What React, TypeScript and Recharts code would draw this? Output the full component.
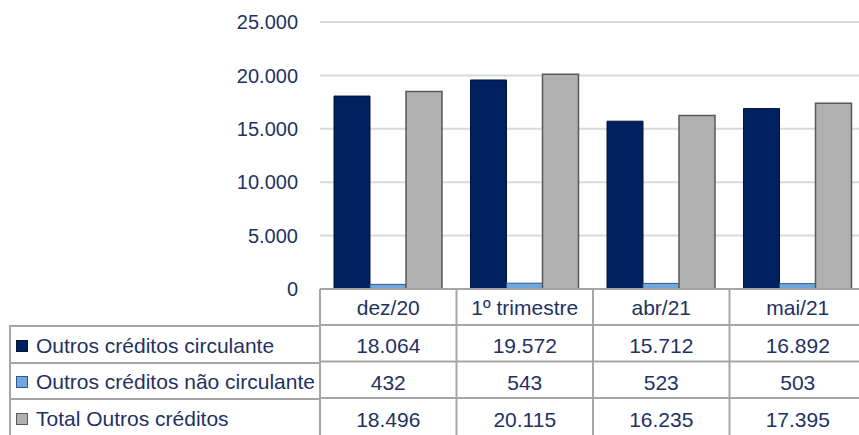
import React from "react";
import { BarChart, Bar, XAxis, YAxis, CartesianGrid, Legend } from "recharts";

const categories = ["dez/20", "1º trimestre", "abr/21", "mai/21"];
const circulante = [18064, 19572, 15712, 16892];
const naoCirculante = [432, 543, 523, 503];
const total = [18496, 20115, 16235, 17395];
const yTicks = [0, 5000, 10000, 15000, 20000, 25000];

const seriesNames = ["Outros créditos circulante", "Outros créditos não circulante", "Total Outros créditos"];

const FONT = "'Liberation Sans', Arial, sans-serif";
const TEXT = "#1f3262";
const LINE = "#a6a6a6";
const ROW = 36;

const fmt = (v: number) => String(v).replace(/\B(?=(\d{3})+(?!\d))/g, ".");

const data = categories.map((name, i) => ({
  name,
  circulante: circulante[i],
  naoCirculante: naoCirculante[i],
  total: total[i],
}));

const swatchBorder: Record<string, string> = {
  "#002060": "#001540",
  "#6fa8dc": "#2f5597",
  "#b0b0b0": "#595959",
};

// one column of the data table under each category
function TableTick(props: any) {
  const { x, y, payload, index } = props;
  const half = payload?.offset ?? 68;
  const left = x - half;
  const right = x + half;
  const rows = [circulante, naoCirculante, total];
  return (
    <g>
      <line x1={left} x2={left} y1={y} y2={y + ROW * 5} stroke={LINE} strokeWidth={2} />
      {rows.map((_, r) => (
        <line key={r} x1={left} x2={right} y1={y + ROW * (r + 1) + r * 0.5} y2={y + ROW * (r + 1) + r * 0.5} stroke={LINE} strokeWidth={2} />
      ))}
      <text x={x} y={y + ROW / 2} textAnchor="middle" dominantBaseline="central" fill={TEXT} fontSize={21} fontFamily={FONT}>
        {categories[index]}
      </text>
      {rows.map((vals, r) => (
        <text key={r} x={x} y={y + ROW * (r + 1.5) + r + 2} textAnchor="middle" dominantBaseline="central" fill={TEXT} fontSize={21} fontFamily={FONT}>
          {fmt(vals[index])}
        </text>
      ))}
    </g>
  );
}

function TableLegend({ payload }: any) {
  return (
    <div style={{ width: 311, fontFamily: FONT, fontSize: 21, color: TEXT }}>
      {(payload || []).map((p: any) => (
        <div
          key={p.value}
          style={{
            height: 36.5,
            boxSizing: "border-box",
            borderTop: `2px solid ${LINE}`,
            borderLeft: `2px solid ${LINE}`,
            display: "flex",
            alignItems: "center",
            whiteSpace: "nowrap",
            paddingTop: 3,
          }}
        >
          <span
            style={{
              display: "inline-block",
              width: 10,
              height: 10,
              marginLeft: 5,
              marginRight: 8,
              background: p.color,
              border: `1px solid ${swatchBorder[p.color] || "#333"}`,
            }}
          />
          {p.value}
        </div>
      ))}
    </div>
  );
}

export default function App() {
  return (
    <div style={{ position: "absolute", left: 0, top: 0, width: 859, height: 435, overflow: "hidden", background: "#fff" }}>
      <BarChart width={866} height={435} data={data} margin={{ top: 22, right: 0, bottom: 0, left: 0 }} barCategoryGap={14} barGap={0}>
        <CartesianGrid vertical={false} stroke="#d9d9d9" strokeWidth={2} />
        <XAxis
          dataKey="name"
          height={146}
          interval={0}
          tickLine={false}
          tickSize={0}
          tickMargin={0}
          axisLine={{ stroke: LINE, strokeWidth: 2 }}
          tick={<TableTick />}
        />
        <YAxis
          domain={[0, 25000]}
          ticks={yTicks}
          tickFormatter={fmt}
          width={320}
          axisLine={false}
          tickLine={false}
          tickSize={0}
          tickMargin={22}
          tick={{ fill: TEXT, fontSize: 20, fontFamily: FONT }}
        />
        <Legend
          layout="horizontal"
          align="center"
          verticalAlign="middle"
          wrapperStyle={{ left: 9, top: 325, width: 311 }}
          content={<TableLegend />}
        />
        <Bar dataKey="circulante" name={seriesNames[0]} fill="#002060" stroke="#001540" strokeWidth={1} isAnimationActive={false} />
        <Bar dataKey="naoCirculante" name={seriesNames[1]} fill="#6fa8dc" stroke="#2f5597" strokeWidth={1} isAnimationActive={false} />
        <Bar dataKey="total" name={seriesNames[2]} fill="#b0b0b0" stroke="#595959" strokeWidth={1.5} isAnimationActive={false} />
      </BarChart>
    </div>
  );
}
